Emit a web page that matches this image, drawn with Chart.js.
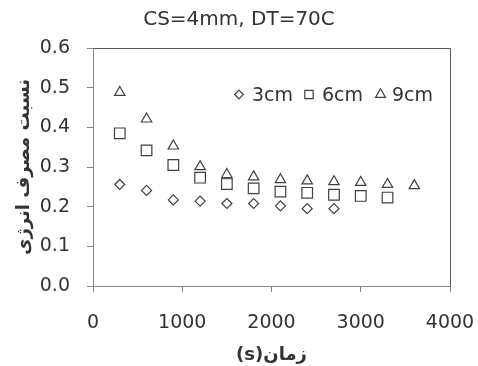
<!DOCTYPE html>
<html><head><meta charset="utf-8">
<script src="https://cdn.jsdelivr.net/npm/chart.js@4/dist/chart.umd.min.js"></script>
<style>html,body{margin:0;padding:0;background:#fff;}canvas{display:block;}</style>
</head><body>
<canvas id="c" width="478" height="366"></canvas>
<script>
const chartTitle = 'CS=4mm, DT=70C';
const xTitle = 'زمان(s)';
const yTitle = 'نسبت مصرف انرژی';
const seriesNames = ['3cm', '6cm', '9cm'];
const time3 = [300, 600, 900, 1200, 1500, 1800, 2100, 2400, 2700];
const ratio3 = [0.256, 0.241, 0.217, 0.214, 0.208, 0.208, 0.202, 0.195, 0.195];
const time6 = [300, 600, 900, 1200, 1500, 1800, 2100, 2400, 2700, 3000, 3300];
const ratio6 = [0.385, 0.342, 0.305, 0.273, 0.257, 0.246, 0.238, 0.235, 0.230, 0.227, 0.223];
const time9 = [300, 600, 900, 1200, 1500, 1800, 2100, 2400, 2700, 3000, 3300, 3600];
const ratio9 = [0.488, 0.421, 0.353, 0.301, 0.281, 0.275, 0.268, 0.265, 0.263, 0.261, 0.256, 0.253];
const xTicks = [0, 1000, 2000, 3000, 4000];
const yTicks = [0.0, 0.1, 0.2, 0.3, 0.4, 0.5, 0.6];

const FONT = "'DejaVu Sans', sans-serif";
const TXT = '#333333';
const AXIS = '#868686';
const MARK = '#404040';

function pts(xs, ys) { return xs.map((x, i) => ({x: x, y: ys[i]})); }

const styles = [
  {pointStyle: 'rectRot', pointRadius: 5, legendRadius: 4.3},
  {pointStyle: 'rect', pointRadius: 7.5, legendRadius: 5.9},
  {pointStyle: 'triangle', pointRadius: 6, legendRadius: 5.8}
];
const dataSets = [pts(time3, ratio3), pts(time6, ratio6), pts(time9, ratio9)];

const boxPlugin = {
  id: 'box',
  beforeDraw(chart) { chart.ctx.direction = 'rtl'; },
  afterDraw(chart) {
    const a = chart.chartArea, ctx = chart.ctx;
    ctx.save();
    ctx.strokeStyle = '#595959';
    ctx.lineWidth = 1;
    ctx.beginPath();
    ctx.moveTo(Math.round(a.left) + 0.5, Math.round(a.top) + 0.5);
    ctx.lineTo(Math.round(a.right) + 0.5, Math.round(a.top) + 0.5);
    ctx.lineTo(Math.round(a.right) + 0.5, Math.round(a.bottom) + 0.5);
    ctx.stroke();
    // legend inside plot
    const items = [
      {mx: 239, tx: 252}, {mx: 309, tx: 322}, {mx: 380.5, tx: 392}
    ];
    ctx.direction = 'ltr';
    ctx.font = '19px ' + FONT;
    ctx.textAlign = 'left';
    ctx.textBaseline = 'alphabetic';
    items.forEach((it, i) => {
      ctx.strokeStyle = MARK;
      ctx.fillStyle = 'rgba(0,0,0,0)';
      ctx.lineWidth = 1.2;
      Chart.helpers.drawPoint(ctx, {pointStyle: styles[i].pointStyle, radius: styles[i].legendRadius, rotation: 0, borderWidth: 1.2}, it.mx, 94.5);
      ctx.fillStyle = TXT;
      ctx.fillText(seriesNames[i], it.tx, 101);
    });
    ctx.restore();
  }
};

new Chart(document.getElementById('c'), {
  type: 'scatter',
  data: {
    datasets: dataSets.map((d, i) => ({
      label: seriesNames[i],
      data: d,
      pointStyle: styles[i].pointStyle,
      pointRadius: styles[i].pointRadius,
      pointHoverRadius: styles[i].pointRadius,
      pointBorderWidth: 1.2,
      pointBorderColor: MARK,
      pointBackgroundColor: 'rgba(0,0,0,0)',
      showLine: false
    }))
  },
  options: {
    responsive: false,
    animation: false,
    devicePixelRatio: 1,
    layout: {padding: {top: 0, right: 0, left: 0, bottom: 0}},
    plugins: {
      legend: {display: false},
      tooltip: {enabled: false},
      title: {
        display: true, text: chartTitle, color: TXT,
        font: {family: FONT, size: 20, weight: 'normal', lineHeight: 1.2},
        padding: {top: 8, bottom: 16}
      }
    },
    scales: {
      x: {
        type: 'linear', min: 0, max: 4000,
        afterFit(s) { s.height = 80; s.paddingLeft = 0; s.paddingRight = 28; },
        afterBuildTicks(s) { s.ticks = xTicks.map(v => ({value: v})); },
        grid: {drawOnChartArea: false, drawTicks: true, tickLength: 6, color: AXIS},
        border: {display: true, color: AXIS, width: 1},
        ticks: {color: TXT, padding: 20, font: {family: FONT, size: 19}, maxRotation: 0,
                callback: v => String(v)},
        title: {display: true, text: xTitle, color: TXT, padding: {top: 0, bottom: 0},
                font: {family: FONT, size: 18, weight: 'bold', lineHeight: 1.2}}
      },
      y: {
        type: 'linear', min: 0, max: 0.6,
        afterFit(s) { s.width = 93; s.paddingTop = 0; s.paddingBottom = 0; },
        afterBuildTicks(s) { s.ticks = yTicks.map(v => ({value: v})); },
        grid: {drawOnChartArea: false, drawTicks: true, tickLength: 6, color: AXIS},
        border: {display: true, color: AXIS, width: 1},
        ticks: {color: TXT, padding: 17, font: {family: FONT, size: 19},
                callback: v => Number(v).toFixed(1)},
        title: {display: true, text: yTitle, color: TXT, padding: {top: 14, bottom: 0},
                font: {family: FONT, size: 18, weight: 'bold', lineHeight: 1.2}}
      }
    }
  },
  plugins: [boxPlugin]
});
</script>
</body></html>
